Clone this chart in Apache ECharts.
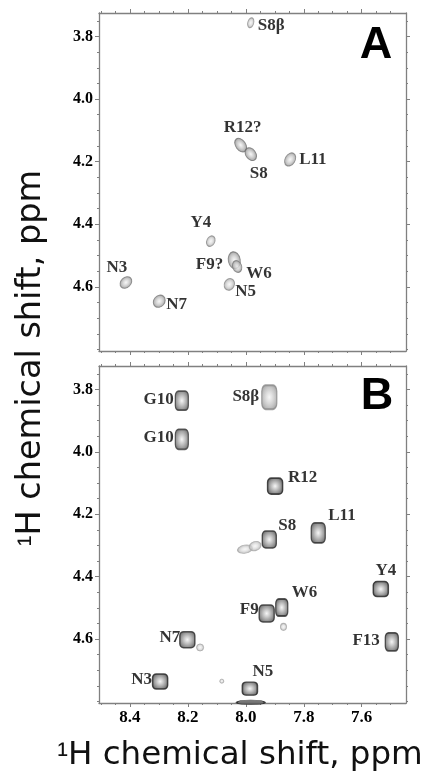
<!DOCTYPE html>
<html><head><meta charset="utf-8">
<script src="https://cdn.jsdelivr.net/npm/echarts@6/dist/echarts.min.js"></script>
<style>html,body{margin:0;padding:0;background:#fff}#c{width:427px;height:775px}</style>
</head><body><div id="c"></div>
<script>
// ---------------- data ----------------
const xTicks = [8.4, 8.2, 8.0, 7.8, 7.6];
const xMinorTicks = [8.5, 8.45, 8.35, 8.3, 8.25, 8.15, 8.1, 8.05, 7.95, 7.9, 7.85, 7.75, 7.7, 7.65, 7.55, 7.5];
const yTicks = [3.8, 4.0, 4.2, 4.4, 4.6];
const yMinorTicks = [3.75, 3.85, 3.9, 3.95, 4.05, 4.1, 4.15, 4.25, 4.3, 4.35, 4.45, 4.5, 4.55, 4.65, 4.7, 4.75, 4.8];

// Panel A peaks (1H ppm)
const peaksANames = ['S8β', 'R12?', 'S8', 'L11', 'Y4', 'F9?', 'W6', 'N5', 'N3', 'N7'];
const peaksAX = [7.983, 8.018, 7.983, 7.847, 8.121, 8.040, 8.030, 8.057, 8.414, 8.299];
const peaksAY = [3.756, 4.147, 4.176, 4.193, 4.454, 4.515, 4.535, 4.592, 4.586, 4.646];

// Panel B peaks (1H ppm)
const peaksBNames = ['G10', 'G10', 'S8β', 'R12', 'L11', 'S8', 'Y4', 'W6', 'F9', 'N7', 'F13', 'N3', 'N5'];
const peaksBX = [8.221, 8.221, 7.919, 7.899, 7.750, 7.919, 7.534, 7.876, 7.928, 8.202, 7.496, 8.296, 7.986];
const peaksBY = [3.836, 3.960, 3.825, 4.110, 4.260, 4.281, 4.440, 4.499, 4.518, 4.602, 4.609, 4.736, 4.759];

// Panel B weak, unassigned peaks
const weakBX = [8.003, 7.968, 7.870, 8.158, 8.083];
const weakBY = [4.312, 4.302, 4.561, 4.627, 4.735];

// Panel B peak cut by the lower edge
const edgeBX = [7.983];
const edgeBY = [4.803];

// ---------------- look ----------------
const X_MIN = 7.447, X_MAX = 8.507, Y_MIN = 3.725, Y_MAX = 4.805;
const serif = 'Liberation Serif';
const axisGray = '#808080';

// [w, h, rotate, shade(0 light..1 dark)], label [align, dx, dy]
const lookA = [
  [6, 10, -15, 0.2, ['left', 7, 3]],
  [10, 15, 35, 0.7, ['center', 2, -17]],
  [10, 14, 35, 0.7, ['center', 8, 19]],
  [10, 14, -30, 0.5, ['left', 9, 0]],
  [8, 11, -25, 0.25, ['center', -10, -19]],
  [12, 17, 10, 0.6, ['right', -11, 4]],
  [9, 12, 20, 0.5, ['left', 9, 7]],
  [10, 12, -25, 0.3, ['left', 6, 7]],
  [10, 13, -45, 0.55, ['center', -9, -15]],
  [11, 13, -40, 0.55, ['left', 7, 3]]
];
const lookB = [
  [13, 19, 0.8, ['right', -8, -1]],
  [13, 20, 0.8, ['right', -8, -2]],
  [15, 24, 0.15, ['right', -10, -1]],
  [15, 16, 1, ['left', 13, -9]],
  [14, 20, 0.9, ['left', 10, -17]],
  [14, 17, 0.9, ['left', 9, -14]],
  [15, 15, 1, ['center', 5, -18]],
  [12, 17, 0.9, ['left', 10, -15]],
  [15, 17, 0.9, ['right', -8, -4]],
  [15, 16, 0.9, ['right', -7, -2]],
  [13, 18, 0.9, ['right', -12, -1]],
  [15, 15, 1, ['right', -8, -2]],
  [15, 13, 1, ['center', 13, -17]]
];
const lookWeak = [[15, 8, 10], [12, 9, 20], [6, 7, 0], [7, 7, 0], [4, 4, 0]];

function mix(a, b, t) { // hex gray levels
  const v = Math.round(a + (b - a) * t);
  const h = v.toString(16).padStart(2, '0');
  return '#' + h + h + h;
}
function fillA(s) {
  return { type: 'radial', x: 0.5, y: 0.5, r: 0.5, colorStops: [
    { offset: 0, color: '#f6f6f6' },
    { offset: 0.45, color: mix(0xe2, 0xc0, s) },
    { offset: 0.8, color: mix(0xc4, 0x90, s) },
    { offset: 1, color: mix(0xa8, 0x70, s) }
  ]};
}
function fillB(s) {
  return { type: 'radial', x: 0.5, y: 0.5, r: 0.55, colorStops: [
    { offset: 0, color: '#f4f4f4' },
    { offset: 0.35, color: mix(0xdd, 0xb8, s) },
    { offset: 0.7, color: mix(0xc0, 0x7a, s) },
    { offset: 1, color: mix(0xa0, 0x3c, s) }
  ]};
}
const labelBase = { show: true, position: 'inside', verticalAlign: 'middle',
  fontFamily: serif, fontWeight: 'bold', fontSize: 17, color: '#000',
  textBorderWidth: 0, textBorderColor: 'transparent', textShadowBlur: 0 };

const dataA = peaksANames.map((n, i) => {
  const L = lookA[i];
  return { name: n, value: [peaksAX[i], peaksAY[i]], symbolSize: [L[0], L[1]], symbolRotate: L[2],
    itemStyle: { color: fillA(L[3]), borderColor: mix(0x9a, 0x60, L[3]), borderWidth: 1 },
    label: Object.assign({}, labelBase, { formatter: n, align: L[4][0], offset: [L[4][1], L[4][2]] }) };
});
const dataB = peaksBNames.map((n, i) => {
  const L = lookB[i];
  return { name: n, value: [peaksBX[i], peaksBY[i]], symbolSize: [L[0], L[1]],
    itemStyle: { color: fillB(L[2]), borderColor: mix(0x9a, 0x22, L[2]), borderWidth: 1.5 },
    label: Object.assign({}, labelBase, { formatter: n, align: L[3][0], offset: [L[3][1], L[3][2]] }) };
});
const dataWeak = weakBX.map((x, i) => ({ value: [x, weakBY[i]], symbolSize: [lookWeak[i][0], lookWeak[i][1]],
  symbolRotate: lookWeak[i][2],
  itemStyle: { color: fillA(0.1), borderColor: '#a8a8a8', borderWidth: 1 } }));
const dataEdge = edgeBX.map((x, i) => ({ value: [x, edgeBY[i]], symbolSize: [28, 5],
  itemStyle: { color: '#555', borderColor: '#222', borderWidth: 1 } }));

// ---------------- axes ----------------
const grids = [
  { left: 99, right: 21, top: 13, height: 338 },
  { left: 99, right: 21, top: 366, height: 337 }
];
const xAxes = [], yAxes = [];
function xAx(g, pos, ticks, len, labels, line) {
  xAxes.push({ type: 'value', gridIndex: g, position: pos, inverse: true, min: X_MIN, max: X_MAX,
    splitLine: { show: false },
    axisLine: { show: line, onZero: false, lineStyle: { color: axisGray, width: 1.3 } },
    axisTick: { show: true, inside: false, length: len, customValues: ticks, lineStyle: { color: axisGray, width: 1 } },
    axisLabel: { show: labels, customValues: ticks, margin: 6, formatter: v => v.toFixed(1),
      fontFamily: serif, fontWeight: 'bold', fontSize: 17, color: '#000' } });
}
function yAx(g, pos, ticks, len, labels, line) {
  yAxes.push({ type: 'value', gridIndex: g, position: pos, inverse: true, min: Y_MIN, max: Y_MAX,
    splitLine: { show: false },
    axisLine: { show: line, onZero: false, lineStyle: { color: axisGray, width: 1.3 } },
    axisTick: { show: true, inside: false, length: len, customValues: ticks, lineStyle: { color: axisGray, width: 1 } },
    axisLabel: { show: labels, customValues: ticks, margin: 6, formatter: v => v.toFixed(1),
      fontFamily: serif, fontWeight: 'bold', fontSize: 16, color: '#000' } });
}
for (let g = 0; g < 2; g++) {
  xAx(g, 'bottom', xTicks, 4, g === 1, true);   // index 4g
  xAx(g, 'bottom', xMinorTicks, 2, false, false);
  xAx(g, 'top', xTicks, 4, false, true);
  xAx(g, 'top', xMinorTicks, 2, false, false);
  yAx(g, 'left', yTicks, 4, true, true);
  yAx(g, 'left', yMinorTicks, 2, false, false);
  yAx(g, 'right', yTicks, 4, false, true);
  yAx(g, 'right', yMinorTicks, 2, false, false);
}

const titleRich = { s: { fontFamily: 'Liberation Sans', fontSize: 32, fill: '#111' } };
const chart = echarts.init(document.getElementById('c'), null, { renderer: 'canvas' });
chart.setOption({
  animation: false,
  backgroundColor: '#fff',
  grid: grids,
  xAxis: xAxes,
  yAxis: yAxes,
  series: [
    { type: 'scatter', xAxisIndex: 0, yAxisIndex: 0, symbol: 'circle', data: dataA, silent: true, z: 3 },
    { type: 'scatter', xAxisIndex: 4, yAxisIndex: 4, symbol: 'circle', data: dataWeak, silent: true, z: 2 },
    { type: 'scatter', xAxisIndex: 4, yAxisIndex: 4, symbol: 'roundRect', data: dataB, silent: true, z: 3 },
    { type: 'scatter', xAxisIndex: 4, yAxisIndex: 4, symbol: 'circle', data: dataEdge, silent: true, z: 3 }
  ],
  graphic: [
    { type: 'text', x: 376, y: 46, style: { text: 'A', fontFamily: 'Liberation Sans', fontWeight: 'bold', fontSize: 45,
      fill: '#000', textAlign: 'center', textVerticalAlign: 'middle' } },
    { type: 'text', x: 377, y: 397, style: { text: 'B', fontFamily: 'Liberation Sans', fontWeight: 'bold', fontSize: 45,
      fill: '#000', textAlign: 'center', textVerticalAlign: 'middle' } },
    { type: 'text', x: 240, y: 756, style: { text: '{s|¹}H chemical shift, ppm', rich: titleRich,
      fontFamily: 'DejaVu Sans', fontSize: 32.5, fill: '#111', textAlign: 'center', textVerticalAlign: 'middle' } },
    { type: 'text', x: 31, y: 358, rotation: Math.PI / 2, style: { text: '{s|¹}H chemical shift, ppm', rich: titleRich,
      fontFamily: 'DejaVu Sans', fontSize: 33.5, fill: '#111', textAlign: 'center', textVerticalAlign: 'middle' } }
  ]
});
</script>
</body></html>
